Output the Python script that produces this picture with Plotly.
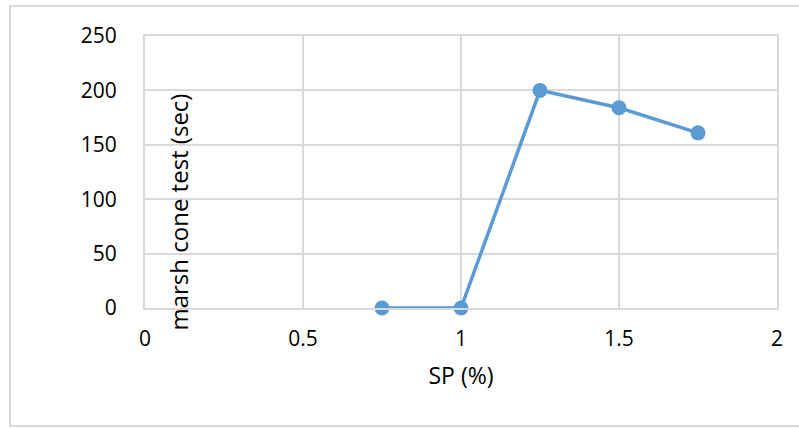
import plotly.graph_objects as go

# Superplasticizer dosage vs. Marsh cone flow time
sp_percent = [0.75, 1.0, 1.25, 1.5, 1.75]
marsh_time = [0, 0, 200, 184, 161]

x_ticks = [0, 0.5, 1, 1.5, 2]
y_ticks = [0, 50, 100, 150, 200, 250]

W, H = 799, 428
L, R, T, B = 145, 22, 36, 120
pw, ph = W - L - R, H - T - B

def px_x(px):
    return (px - L) / pw

def px_y(py):
    return (H - B - py) / ph

FONT = "Open Sans"
GRID = "#d9d9d9"

fig = go.Figure()
fig.add_trace(go.Scatter(
    x=sp_percent, y=marsh_time, mode="lines+markers",
    line=dict(color="#5b9bd5", width=3.5),
    marker=dict(color="#5b9bd5", size=15),
    cliponaxis=False,
    showlegend=False,
))

fig.update_layout(
    width=W, height=H,
    margin=dict(l=L, r=R, t=T, b=B),
    paper_bgcolor="white", plot_bgcolor="white",
    font=dict(family=FONT, size=21, color="#000000"),
    xaxis=dict(
        range=[0, 2], tickvals=x_ticks, ticktext=[f"{v:g}" for v in x_ticks],
        tickfont=dict(size=21),
        showgrid=True, gridcolor=GRID, gridwidth=2,
        showline=True, linecolor=GRID, linewidth=2, mirror=True,
        zeroline=False, ticks="", ticklabelstandoff=11,
        title=dict(text="SP (%)", font=dict(size=23), standoff=17),
        fixedrange=True,
    ),
    yaxis=dict(
        range=[0, 250], tickvals=y_ticks,
        tickfont=dict(size=21),
        showgrid=True, gridcolor=GRID, gridwidth=2,
        showline=True, linecolor=GRID, linewidth=2, mirror=True,
        zeroline=False, ticks="", ticklabelstandoff=22,
        fixedrange=True,
    ),
    annotations=[dict(
        text="marsh cone test (sec)", textangle=-90,
        xref="paper", yref="paper", x=px_x(178), y=px_y(212.5),
        xanchor="center", yanchor="middle", showarrow=False,
        font=dict(family=FONT, size=24, color="#000000"),
    )],
    shapes=[dict(
        type="rect", xref="paper", yref="paper",
        x0=px_x(10), x1=px_x(810), y0=px_y(426), y1=px_y(6),
        line=dict(color=GRID, width=2), fillcolor="rgba(0,0,0,0)", layer="below",
    )],
)

fig.write_html("out.html")
